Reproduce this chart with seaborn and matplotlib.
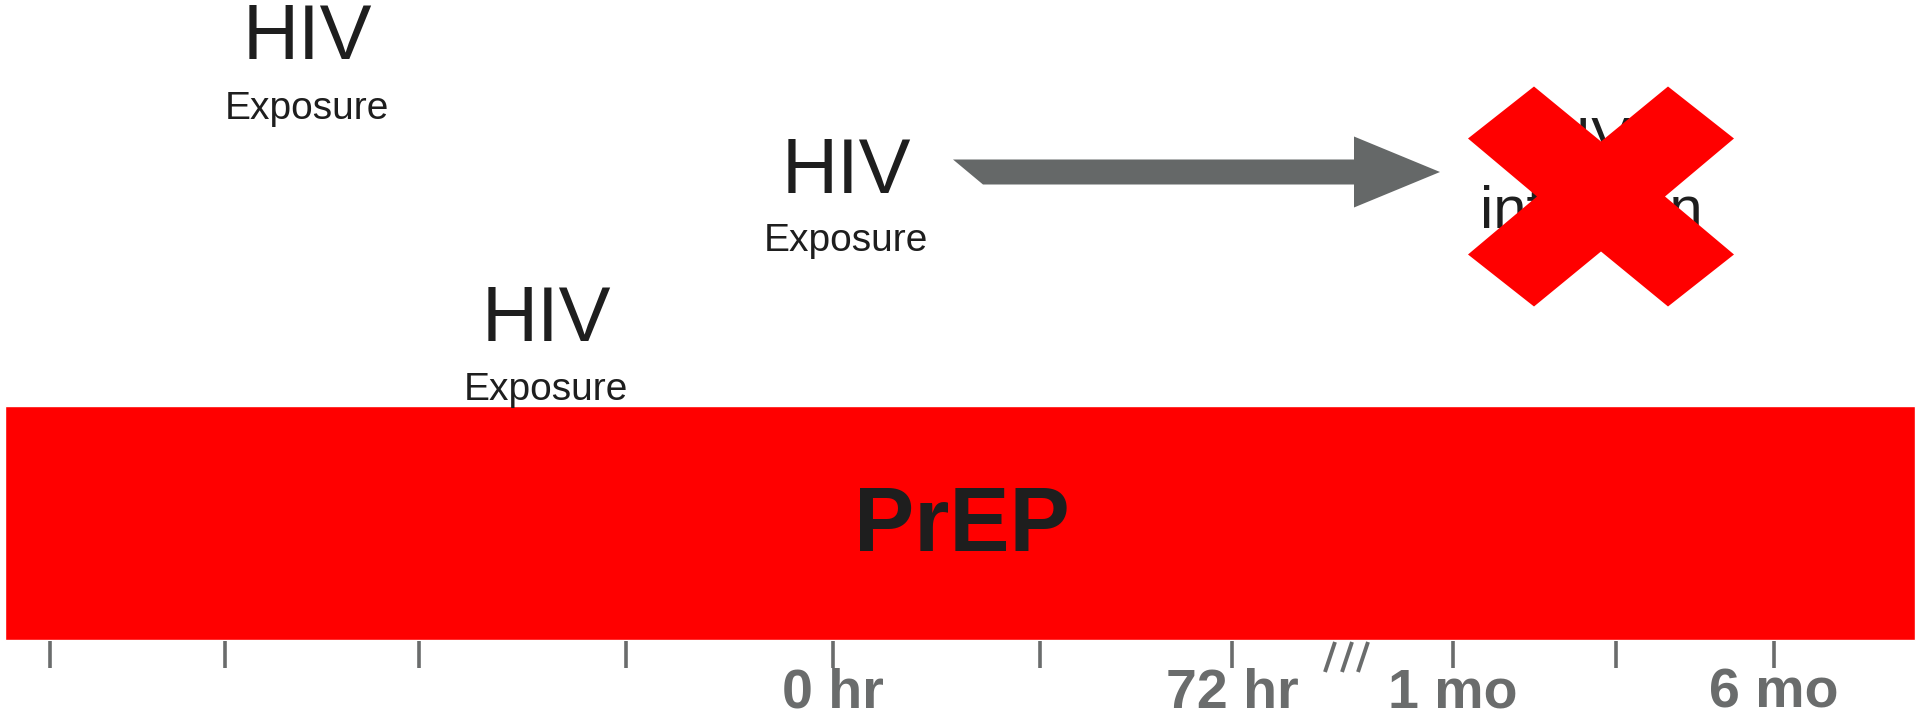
import numpy as np
import matplotlib
matplotlib.use("Agg")
import matplotlib.pyplot as plt
import seaborn as sns

# ============ data ============
# timeline (pixel-like units, figure is 1921 x 721)
tick_x = [50, 225, 419, 626, 833, 1040, 1232, 1453, 1616, 1774]
tick_labels = ["", "", "", "", "0 hr", "", "72 hr", "1 mo", "", "6 mo"]

# PrEP bar: left, right, top, bottom
prep_span = [5, 1915]
prep_rows = [406, 640]
prep_label = "PrEP"

# HIV exposures: x center, baseline of "HIV", baseline of "Exposure"
exposure_x = [307, 546, 846]
exposure_hiv_y = [59, 341, 193]
exposure_sub_y = [119, 400, 251]

# arrow exposure -> infection
arrow_x = [953, 1440]
arrow_y = 172

# blocked infection
infection_x = 1601
infection_y = 196.5
infection_text = ["HIV", "infection"]

# break mark between 72 hr and 1 mo
break_x = [1330, 1347, 1363]

# ============ style ============
sns.set_theme(style="white")
plt.rcParams['font.family'] = ['Liberation Sans', 'DejaVu Sans']

DARK = "#1e1e1e"
GRAY = "#6a6c6c"
RED = "#ff0000"

fig = plt.figure(figsize=(19.21, 7.21), dpi=100)
ax = fig.add_axes([0, 0, 1, 1])
ax.set_xlim(0, 1921)
ax.set_ylim(721, 0)
ax.axis("off")

# PrEP bar
ax.barh(y=np.mean(prep_rows), width=prep_span[1] - prep_span[0], left=prep_span[0],
        height=prep_rows[1] - prep_rows[0], color=RED, zorder=1)
ax.text(962, 551, prep_label, ha="center", va="baseline", fontsize=65,
        fontweight="bold", color=DARK, zorder=3)

# ticks + labels
for x, lab in zip(tick_x, tick_labels):
    ax.plot([x, x], [641, 668], color=GRAY, lw=2.6, solid_capstyle="butt", zorder=2)
    if lab:
        ax.text(x, 708, lab, ha="center", va="baseline", fontsize=40,
                fontweight="bold", color=GRAY)

# break mark ///
for bx in break_x:
    ax.plot([bx - 5, bx + 5], [672, 642], color=GRAY, lw=2.8, solid_capstyle="butt")

# exposure labels
for x, y1, y2 in zip(exposure_x, exposure_hiv_y, exposure_sub_y):
    ax.text(x, y1, "HIV", ha="center", va="baseline", fontsize=56, color=DARK)
    ax.text(x, y2, "Exposure", ha="center", va="baseline", fontsize=28, color=DARK)

# arrow (slanted tail)
w, hw, hl, slant = 25, 71, 86, 30
x0, x1 = arrow_x
xh = x1 - hl
arrow_pts = np.array([
    [x0, arrow_y - w / 2], [xh, arrow_y - w / 2], [xh, arrow_y - hw / 2],
    [x1, arrow_y], [xh, arrow_y + hw / 2], [xh, arrow_y + w / 2],
    [x0 + slant, arrow_y + w / 2],
])
ax.fill(arrow_pts[:, 0], arrow_pts[:, 1], color="#656868", lw=0, zorder=2)

# HIV infection text, crossed out
ax.text(1582, 158, infection_text[0], ha="center", va="baseline", fontsize=42, color=DARK, zorder=2)
ax.text(1591, 228, infection_text[1], ha="center", va="baseline", fontsize=43, color=DARK, zorder=2)

x_shape = np.array([
    [-133, -58], [-67, -110], [0, -55], [67, -110], [133, -58], [64, 0],
    [133, 58], [67, 110], [0, 55], [-67, 110], [-133, 58], [-64, 0],
])
ax.fill(infection_x + x_shape[:, 0], infection_y + x_shape[:, 1], color=RED, lw=0, zorder=4)

fig.savefig("out.png", dpi=100, facecolor="white")
